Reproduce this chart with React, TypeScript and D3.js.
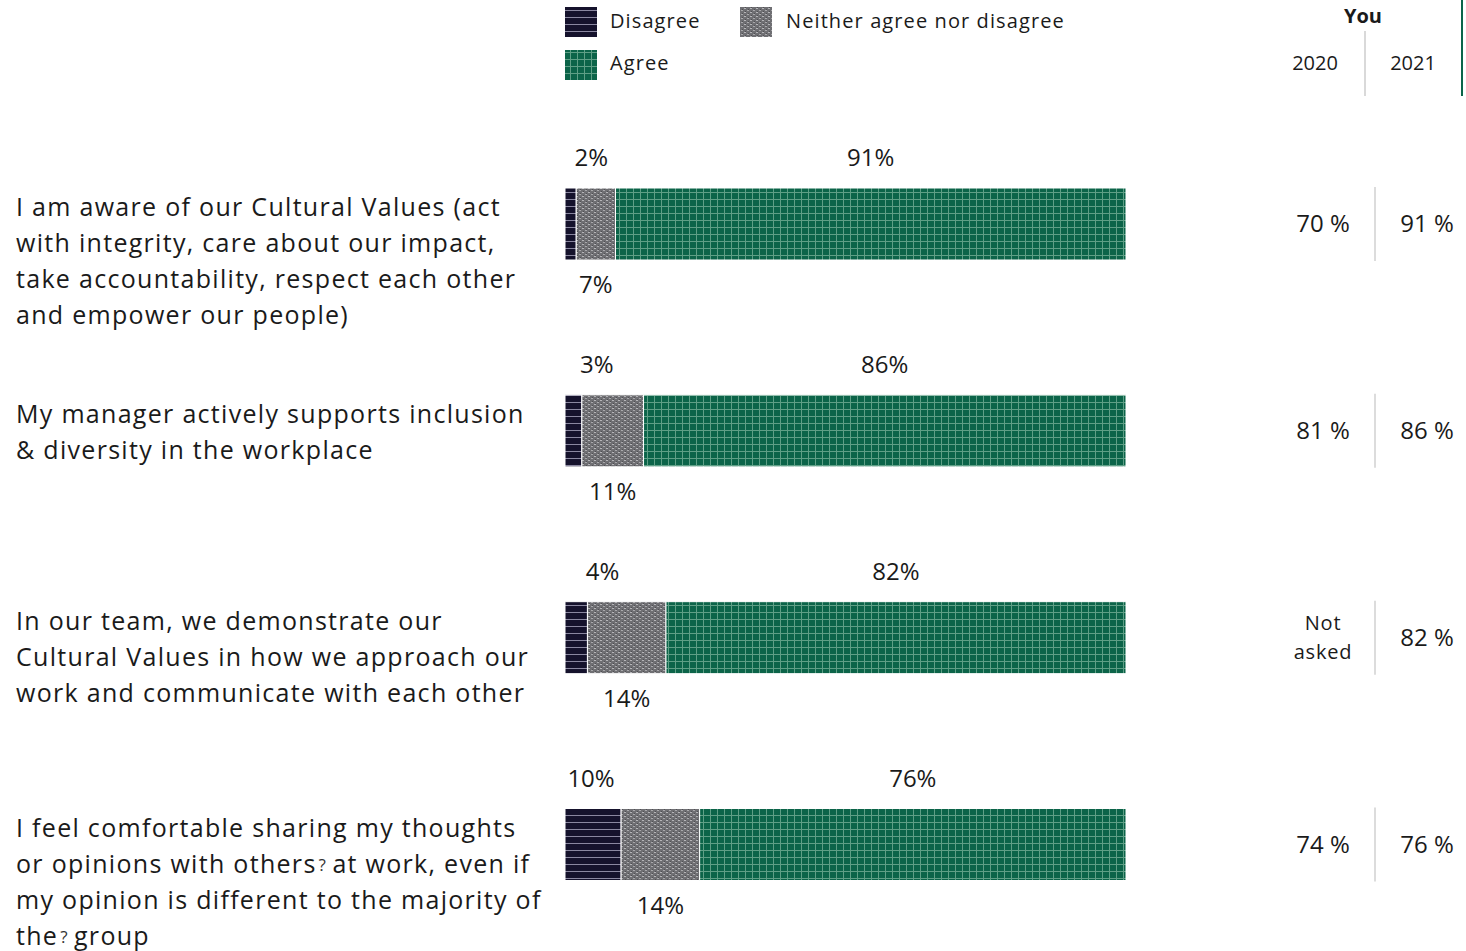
import React from "react";
import * as d3 from "d3";

const questions: string[][] = [
  ["I am aware of our Cultural Values (act", "with integrity, care about our impact,", "take accountability, respect each other", "and empower our people)"],
  ["My manager actively supports inclusion", "& diversity in the workplace"],
  ["In our team, we demonstrate our", "Cultural Values in how we approach our", "work and communicate with each other"],
  ["I feel comfortable sharing my thoughts", "or opinions with others\u2370at work, even if", "my opinion is different to the majority of", "the\u2370group"],
];
const disagree = [2, 3, 4, 10];
const neither = [7, 11, 14, 14];
const agree = [91, 86, 82, 76];
const you2020 = ["70 %", "81 %", "Not asked", "74 %"];
const you2021 = ["91 %", "86 %", "82 %", "76 %"];
const legendItems = ["Disagree", "Neither agree nor disagree", "Agree"];
const yearHeaders = ["2020", "2021"];

const FONT = "'Open Sans', sans-serif";

// Render the unknown-glyph marker as a small question mark (still real text)
function renderLine(l: string) {
  const parts = l.split("\u2370");
  const out: React.ReactNode[] = [];
  parts.forEach((p, k) => {
    if (k > 0) {
      out.push(
        <tspan key={`q${k}`} fontSize={17} dy={-2} dx={2} letterSpacing={0} fill="#333">?</tspan>
      );
      out.push(<tspan key={`r${k}`} dy={2} dx={1}>{"\u2009"}</tspan>);
    }
    out.push(<tspan key={`p${k}`}>{p}</tspan>);
  });
  return out;
}

export default function App() {
  const x = d3.scaleLinear().domain([0, 100]).range([565, 1126]);
  const yc = d3.scalePoint<number>().domain(d3.range(questions.length)).range([224, 844.5]);
  const barH = 72;
  const textColor = "#1a1a1a";

  const pctW = (s: string) => s.length * 12.5;

  return (
    <svg width={1466} height={951} style={{ position: "absolute", left: 0, top: 0 }} fontFamily={FONT}>
      <defs>
        <pattern id="pDis" width={8} height={7} patternUnits="userSpaceOnUse">
          <rect width={8} height={7} fill="#15122c" />
          <rect y={3} width={8} height={1} fill="#8a87a0" />
        </pattern>
        <pattern id="pNei" width={6} height={4} patternUnits="userSpaceOnUse">
          <rect width={6} height={4} fill="#6f6f73" />
          <rect x={0} y={0} width={2} height={1} fill="#b5b5b8" />
          <rect x={3} y={2} width={2} height={1} fill="#a8a8ab" />
          <rect x={1} y={3} width={1} height={1} fill="#4e4e52" />
          <rect x={4} y={1} width={1} height={1} fill="#505054" />
        </pattern>
        <pattern id="pAgr" width={7} height={7} patternUnits="userSpaceOnUse">
          <rect width={7} height={7} fill="#0c6449" />
          <rect x={3} width={1} height={7} fill="#5f9f86" />
          <rect y={3} width={7} height={1} fill="#5f9f86" />
        </pattern>
      </defs>

      {/* Legend */}
      <g letterSpacing={1.1}>
        <rect x={565} y={7} width={32} height={30} fill="url(#pDis)" />
        <text x={610} y={28} fontSize={20} fill={textColor}>{legendItems[0]}</text>
        <rect x={740} y={7} width={32} height={30} fill="url(#pNei)" />
        <text x={786} y={28} fontSize={20} fill={textColor}>{legendItems[1]}</text>
        <rect x={565} y={50} width={32} height={30} fill="url(#pAgr)" />
        <text x={610} y={70} fontSize={20} fill={textColor}>{legendItems[2]}</text>
      </g>

      {/* Right header */}
      <text x={1363} y={23} fontSize={20} fontWeight={700} textAnchor="middle" fill={textColor}>You</text>
      <text x={1315} y={70} fontSize={20} textAnchor="middle" fill={textColor}>{yearHeaders[0]}</text>
      <text x={1413} y={70} fontSize={20} textAnchor="middle" fill={textColor}>{yearHeaders[1]}</text>
      <line x1={1365} x2={1365} y1={31} y2={96} stroke="#d9d9d9" strokeWidth={2} />
      <line x1={1462} x2={1462} y1={0} y2={96} stroke="#0c6449" strokeWidth={2} />

      {questions.map((lines, i) => {
        const c = yc(i)!;
        const top = c - barH / 2;
        const d0 = x(0), d1 = x(disagree[i]);
        const n1 = x(disagree[i] + neither[i]);
        const a1 = x(disagree[i] + neither[i] + agree[i]);
        const dLab = `${disagree[i]}%`;
        const dW = d1 - d0;
        const dLabX = dW < pctW(dLab) ? d1 + 15 : (d0 + d1) / 2 - 2;
        const v20 = you2020[i];
        return (
          <g key={i}>
            {lines.map((l, j) => (
              <text key={j} x={16} y={c - 8 + j * 36} fontSize={25} fill={textColor} letterSpacing={1.3}>
                {renderLine(l)}
              </text>
            ))}
            <rect x={d0} y={top} width={d1 - d0} height={barH} fill="url(#pDis)" stroke="#fff" strokeWidth={1} />
            <rect x={d1} y={top} width={n1 - d1} height={barH} fill="url(#pNei)" stroke="#fff" strokeWidth={1} />
            <rect x={n1} y={top} width={a1 - n1} height={barH} fill="url(#pAgr)" stroke="#fff" strokeWidth={1} />
            <text x={dLabX} y={top - 22} fontSize={24} textAnchor="middle" fill={textColor}>{dLab}</text>
            <text x={(n1 + a1) / 2} y={top - 22} fontSize={24} textAnchor="middle" fill={textColor}>{`${agree[i]}%`}</text>
            <text x={(d1 + n1) / 2} y={top + barH + 33} fontSize={24} textAnchor="middle" fill={textColor}>{`${neither[i]}%`}</text>
            {v20 === "Not asked" ? (
              <text x={1323} y={c - 8} fontSize={20} textAnchor="middle" fill={textColor} letterSpacing={0.8}>
                <tspan x={1323} dy={0}>Not</tspan>
                <tspan x={1323} dy={29}>asked</tspan>
              </text>
            ) : (
              <text x={1323} y={c + 8} fontSize={24} textAnchor="middle" fill={textColor}>{v20}</text>
            )}
            <line x1={1375} x2={1375} y1={top - 1} y2={top + barH + 1} stroke="#dcdcdc" strokeWidth={2} />
            <text x={1427} y={c + 8} fontSize={24} textAnchor="middle" fill={textColor}>{you2021[i]}</text>
          </g>
        );
      })}
    </svg>
  );
}
